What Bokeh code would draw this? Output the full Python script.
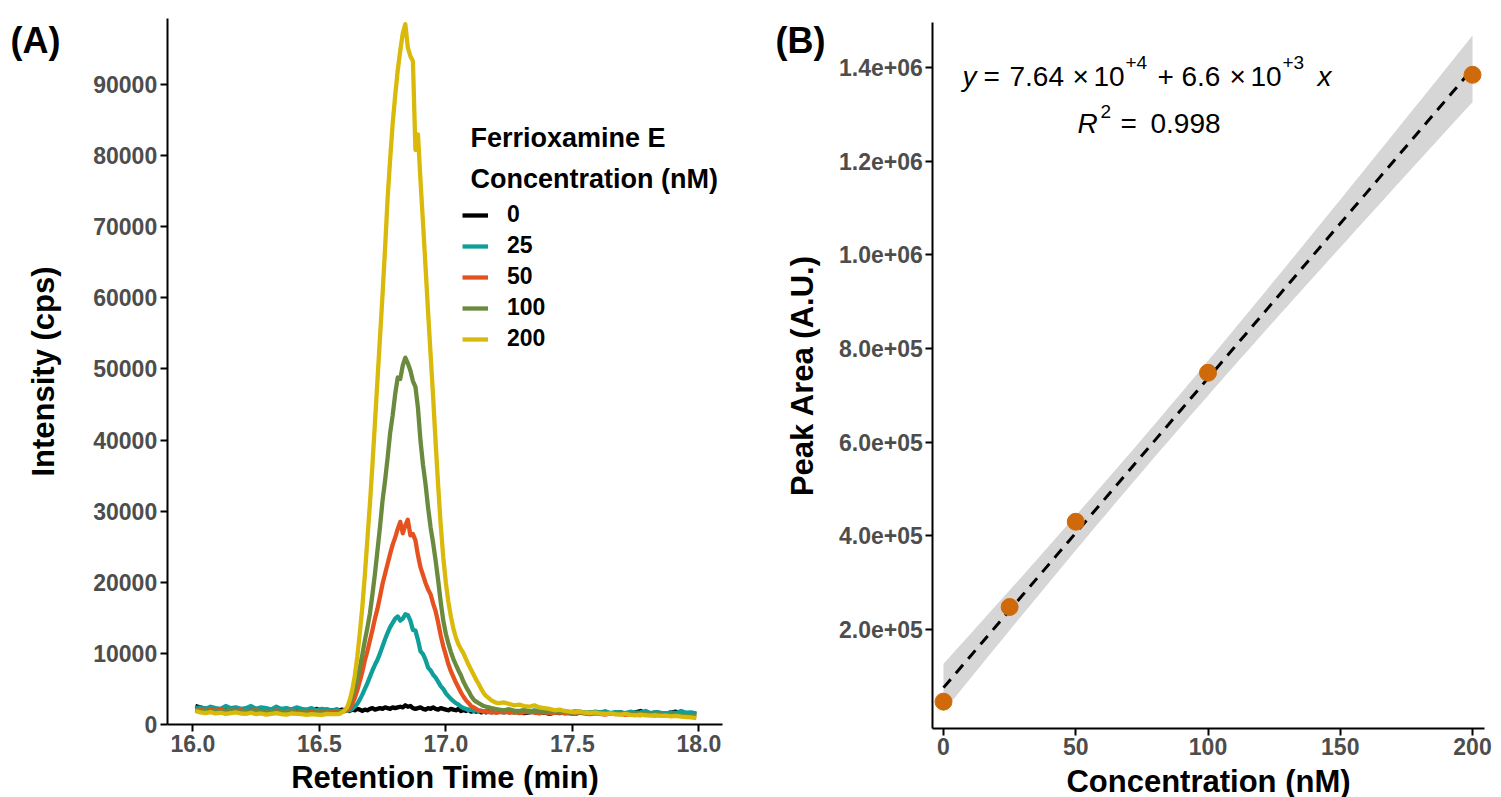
import numpy as np
from bokeh.plotting import figure
from bokeh.layouts import row
from bokeh.models import (Range1d, FixedTicker, Label, Legend, LegendItem,
                          PrintfTickFormatter, NumeralTickFormatter)
from bokeh.embed import file_html
from bokeh.resources import INLINE

# ---------------- Panel A data ----------------
# sampling grid of the chromatograms (min)
time_left = [round(16.01 + 0.02 * i, 2) for i in range(29)]    # 16.01 .. 16.57
time_mid = [round(16.58 + 0.01 * i, 2) for i in range(63)]     # 16.58 .. 17.20
time_right = [round(17.21 + 0.02 * i, 2) for i in range(40)]   # 17.21 .. 17.99
retention_time = time_left + time_mid + time_right

conc_labels = ["0", "25", "50", "100", "200"]
line_colors = ["#000000", "#0E9F9B", "#E6521F", "#6A8A3E", "#D9B90A"]

intensity_0 = [
    2600, 2400, 2200, 2300, 2000, 2100, 2200, 2000, 1900, 2100,
    2000, 2200, 1900, 2000, 1800, 2000, 2100, 1900, 2000, 1800,
    1900, 2100, 1900, 2000, 2200, 1900, 2100, 2000, 2100,
    2000, 2100, 2000, 2200, 1900, 2100, 2000, 2200, 2100, 1900,
    2100, 2000, 2200, 2300, 2100, 2200, 2300, 2200, 2400, 2300,
    2200, 2400, 2300, 2400, 2500, 2400, 2700, 2500, 2600, 2300,
    2200, 2300, 2400, 2200, 2100, 2300, 2200, 2400, 2200, 2100,
    2300, 2200, 2100, 2000, 2200, 2100, 2000, 2200, 1900, 2000,
    1900, 2100, 1800, 1900, 1800, 1900, 1700, 1800, 1700, 1900,
    1700, 1800, 1700,
    1800, 1700, 1900, 1700, 1800, 1600, 1700, 1800, 1600, 1700,
    1500, 1700, 1600, 1800, 1600, 1500, 1700, 1600, 1500, 1700,
    1600, 1800, 1500, 1600, 1700, 1500, 1600, 1700, 1900, 1600,
    1500, 1700, 1600, 1500, 1700, 1800, 1600, 1500, 1600, 1500,
]
intensity_25 = [
    2300, 2400, 2200, 2500, 2300, 2200, 2600, 2300, 2400, 2200,
    2300, 2600, 2200, 2400, 2300, 2100, 2500, 2200, 2300, 2100,
    2400, 2200, 2100, 2300, 2000, 2200, 2100, 2000, 2100,
    1900, 1800, 1900, 1950, 2000, 2200, 2500, 2900, 3500, 4200,
    5000, 5800, 6700, 7600, 8400, 9100, 10000, 11000, 12000, 12900,
    13700, 14300, 14900, 15200, 14600, 14900, 15500, 15400, 14600, 13300,
    13200, 11900, 10300, 9900, 9100, 8000, 7600, 7000, 6600, 6000,
    5400, 5000, 4400, 4000, 3600, 3300, 3000, 2800, 2500, 2300,
    2200, 2000, 2100, 1900, 2000, 1850, 1950, 1800, 1900, 1750,
    1850, 1800, 1900,
    1800, 1900, 2000, 1850, 1750, 1900, 1800, 2000, 1850, 1700,
    1900, 1800, 1750, 1900, 1700, 1850, 1800, 1700, 1650, 1800,
    1700, 1850, 1600, 1750, 1700, 1600, 1800, 1650, 1700, 1900,
    1600, 1750, 1650, 1550, 1700, 1600, 1900, 1650, 1700, 1550,
]
intensity_50 = [
    2000, 2100, 1900, 2050, 1950, 2100, 1850, 2000, 1900, 2050,
    1800, 1950, 2000, 1850, 1900, 1750, 2000, 1850, 1800, 1950,
    1700, 1850, 1800, 1750, 1900, 1700, 1800, 1750, 1850,
    1800, 1900, 1900, 2000, 2300, 2900, 3700, 4800, 6100, 7400,
    9000, 10300, 11800, 13300, 14900, 16300, 18000, 19800, 21200, 22600,
    24000, 25300, 26300, 27500, 28500, 26900, 28000, 28800, 26600, 26800,
    25900, 23800, 22100, 21000, 19900, 19000, 18300, 17000, 15900, 14300,
    12500, 11000, 9800, 8500, 7500, 6700, 5900, 5200, 4500, 3900,
    3400, 3000, 2600, 2400, 2200, 2000, 1900, 1800, 1850, 1750,
    1800, 1700, 1750,
    1700, 1800, 1650, 1750, 1600, 1700, 1800, 1650, 1600, 1750,
    1550, 1650, 1700, 1550, 1600, 1500, 1650, 1550, 1450, 1600,
    1500, 1400, 1550, 1450, 1500, 1350, 1450, 1400, 1300, 1450,
    1350, 1300, 1400, 1250, 1350, 1300, 1200, 1300, 1150, 1100,
]
intensity_100 = [
    2100, 1900, 2000, 1850, 1950, 1800, 1900, 2000, 1850, 1750,
    1900, 1800, 1950, 1700, 1850, 1800, 1750, 1900, 1700, 1800,
    1650, 1750, 1700, 1600, 1750, 1650, 1700, 1600, 1650,
    1700, 1800, 1900, 2300, 3000, 3900, 5000, 6200, 8000, 9800,
    11800, 13600, 15600, 18300, 21200, 24500, 27800, 31500, 34300, 37500,
    41000, 43500, 46500, 48800, 48600, 50500, 51600, 50800, 49800, 48300,
    47500, 44500, 39900, 36500, 33800, 30500, 27700, 25500, 23000, 20200,
    17200, 14600, 12800, 11400, 10200, 9200, 8400, 7600, 6900, 6000,
    5300, 4700, 4000, 3500, 3200, 3000, 2800, 2600, 2500, 2400,
    2300, 2250, 2150,
    2100, 2000, 2150, 1950, 1900, 2050, 1850, 1900, 1800, 1950,
    1750, 1850, 1700, 1800, 1650, 1750, 1700, 1600, 1700, 1550,
    1650, 1600, 1500, 1600, 1450, 1550, 1500, 1400, 1500, 1450,
    1350, 1450, 1400, 1300, 1400, 1350, 1300, 1250, 1300, 1200,
]
intensity_200 = [
    1900, 1700, 1600, 1750, 1550, 1650, 1500, 1600, 1700, 1550,
    1500, 1650, 1450, 1550, 1400, 1500, 1600, 1450, 1400, 1550,
    1500, 1450, 1350, 1450, 1400, 1350, 1500, 1450, 1450,
    1500, 1700, 2000, 2400, 3400, 4800, 6800, 9500, 12800, 16500,
    21000, 26000, 31000, 36500, 42500, 48500, 54500, 60500, 67000, 74000,
    79500, 84500, 88500, 92000, 94800, 97200, 98500, 95200, 94000, 93300,
    80800, 83000, 76500, 70500, 64300, 58000, 52000, 46000, 39500, 33500,
    28000, 23500, 20000, 17300, 15200, 13500, 12200, 11300, 10600, 10000,
    9200, 8400, 7700, 7000, 6300, 5700, 5000, 4400, 4000, 3700,
    3400, 3200, 3050,
    3000, 3100, 2900, 2700, 2800, 2600, 2500, 2700, 2400, 2300,
    2200, 2000, 2100, 1900, 1800, 1700, 1800, 1650, 1600, 1700,
    1550, 1500, 1550, 1450, 1400, 1500, 1350, 1300, 1400, 1300,
    1250, 1300, 1200, 1250, 1150, 1200, 1100, 1050, 1000, 900,
]
series_a = [intensity_0, intensity_25, intensity_50, intensity_100, intensity_200]

x_ticks_a = [16.0, 16.5, 17.0, 17.5, 18.0]
y_ticks_a = [0, 10000, 20000, 30000, 40000, 50000, 60000, 70000, 80000, 90000]

# ---------------- Panel B data ----------------
concentration = [0, 25, 50, 100, 200]
peak_area = [46000, 248000, 430000, 748000, 1384000]
x_ticks_b = [0, 50, 100, 150, 200]
y_ticks_b = [200000, 400000, 600000, 800000, 1000000, 1200000, 1400000]
y_tick_labels_b = ["2.0e+05", "4.0e+05", "6.0e+05", "8.0e+05", "1.0e+06", "1.2e+06", "1.4e+06"]

FONT = "Liberation Sans"


def style(p):
    p.xgrid.grid_line_color = None
    p.ygrid.grid_line_color = None
    p.outline_line_color = None
    p.background_fill_color = "white"
    p.border_fill_color = "white"
    for ax in p.axis:
        ax.axis_line_width = 2
        ax.axis_line_color = "black"
        ax.major_tick_line_width = 2
        ax.major_tick_line_color = "black"
        ax.major_tick_out = 7
        ax.major_tick_in = 0
        ax.minor_tick_line_color = None
        ax.major_label_text_font = FONT
        ax.major_label_text_font_style = "bold"
        ax.major_label_text_font_size = "23px"
        ax.major_label_text_color = "#4D4D4D"
        ax.axis_label_text_font = FONT
        ax.axis_label_text_font_style = "bold"
        ax.axis_label_text_font_size = "31px"
        ax.axis_label_text_color = "black"
        ax.major_label_standoff = 3


def label(p, x, y, text, size, style_="normal", align="left", x_offset=0):
    p.add_layout(Label(x=x, y=y, x_offset=x_offset, text=text, text_font=FONT,
                       text_font_style=style_, text_font_size=size, text_color="black",
                       text_align=align, text_baseline="middle"))


# ---------------- Panel A ----------------
# the frame covers the whole canvas; axes are pinned at the panel edges
p1 = figure(width=760, height=797, output_backend="svg", toolbar_location=None,
            x_range=Range1d(15.2399, 18.2439), y_range=Range1d(-10267, 101828),
            min_border_left=0, min_border_right=0, min_border_top=0, min_border_bottom=0)
renderers = []
for ys, col in zip(series_a, line_colors):
    r = p1.line(retention_time, ys, line_color=col, line_width=4.3, line_join="round")
    renderers.append(r)
style(p1)
p1.xaxis.fixed_location = 0
p1.xaxis.bounds = (15.8988, 18.094)
p1.yaxis.fixed_location = 15.8988
p1.yaxis.bounds = (0, 99300)
p1.xaxis.ticker = FixedTicker(ticks=x_ticks_a)
p1.xaxis.formatter = PrintfTickFormatter(format="%.1f")
p1.yaxis.ticker = FixedTicker(ticks=y_ticks_a)
p1.yaxis.formatter = NumeralTickFormatter(format="0")
p1.xaxis.axis_label = "Retention Time (min)"
p1.yaxis.axis_label = "Intensity (cps)"
p1.xaxis.axis_label_standoff = 5
p1.yaxis.axis_label_standoff = 30

legend = Legend(items=[LegendItem(label=l, renderers=[r]) for l, r in zip(conc_labels, renderers)],
                location=(462, 445), label_text_font=FONT, label_text_font_style="bold",
                label_text_font_size="23px", label_text_color="black",
                glyph_width=26, glyph_height=26,
                label_standoff=19, spacing=4, padding=0, margin=0,
                border_line_color=None, background_fill_alpha=0)
p1.add_layout(legend)
label(p1, 17.0976, 82419, "Ferrioxamine E", "27px", "bold")
label(p1, 17.0976, 76653, "Concentration (nM)", "27px", "bold")
label(p1, 15.2794, 96203, "(A)", "36px", "bold")

# ---------------- Panel B ----------------
p2 = figure(width=741, height=797, output_backend="svg", toolbar_location=None,
            x_range=Range1d(-69.187, 210.96), y_range=Range1d(-158591, 1542583),
            min_border_left=0, min_border_right=0, min_border_top=0, min_border_bottom=0)

cx = np.array(concentration, dtype=float)
cy = np.array(peak_area, dtype=float)
slope, intercept = np.polyfit(cx, cy, 1)
xs = np.linspace(0, 200, 81)
fit = intercept + slope * xs
n = len(cx)
resid = cy - (intercept + slope * cx)
s = np.sqrt((resid ** 2).sum() / (n - 2))
sxx = ((cx - cx.mean()) ** 2).sum()
se = s * np.sqrt(1.0 / n + (xs - cx.mean()) ** 2 / sxx)
t975 = 3.182446  # t quantile, df = 3
p2.varea(x=xs, y1=fit - t975 * se, y2=fit + t975 * se, fill_color="#D6D6D6")
p2.line(xs, fit, line_color="black", line_width=3, line_dash="11 8")
p2.scatter(concentration, peak_area, size=17, fill_color="#CF6A0C", line_color="#CF6A0C")
style(p2)
p2.xaxis.fixed_location = -11300
p2.xaxis.bounds = (-4.045, 204.4)
p2.yaxis.fixed_location = -4.045
p2.yaxis.bounds = (-11300, 1496000)
p2.xaxis.ticker = FixedTicker(ticks=x_ticks_b)
p2.xaxis.formatter = NumeralTickFormatter(format="0")
p2.yaxis.ticker = FixedTicker(ticks=y_ticks_b)
p2.yaxis.major_label_overrides = {v: lab for v, lab in zip(y_ticks_b, y_tick_labels_b)}
p2.xaxis.axis_label = "Concentration (nM)"
p2.yaxis.axis_label = "Peak Area (A.U.)"
p2.xaxis.axis_label_standoff = 5
p2.yaxis.axis_label_standoff = 16

label(p2, -63.52, 1457204, "(B)", "36px", "bold")

# regression equation, built from pieces (text, x offset px, style, superscript)
eq_x, eq_y, eq_sup = 7.18, 1380363, 1410245
eq_pieces = [("y", 0, "italic", False), ("=", 21, "normal", False), ("7.64", 47, "normal", False),
             ("\u00d7", 110, "normal", False), ("10", 131, "normal", False), ("+4", 163, "normal", True),
             ("+", 195, "normal", False), ("6.6", 219, "normal", False), ("\u00d7", 267, "normal", False),
             ("10", 288, "normal", False), ("+3", 320, "normal", True), ("x", 355, "italic", False)]
for txt, off, sty, sup in eq_pieces:
    label(p2, eq_x, eq_sup if sup else eq_y, txt, "19px" if sup else "28px", sty, x_offset=off)
r2_x, r2_y, r2_sup = 50.66, 1281110, 1305656
r2_pieces = [("R", 0, "italic", False), ("2", 23, "normal", True), ("=", 43, "normal", False),
             ("0.998", 73, "normal", False)]
for txt, off, sty, sup in r2_pieces:
    label(p2, r2_x, r2_sup if sup else r2_y, txt, "19px" if sup else "28px", sty, x_offset=off)

layout = row(p1, p2)
open("out.html", "w").write(file_html(layout, INLINE))
